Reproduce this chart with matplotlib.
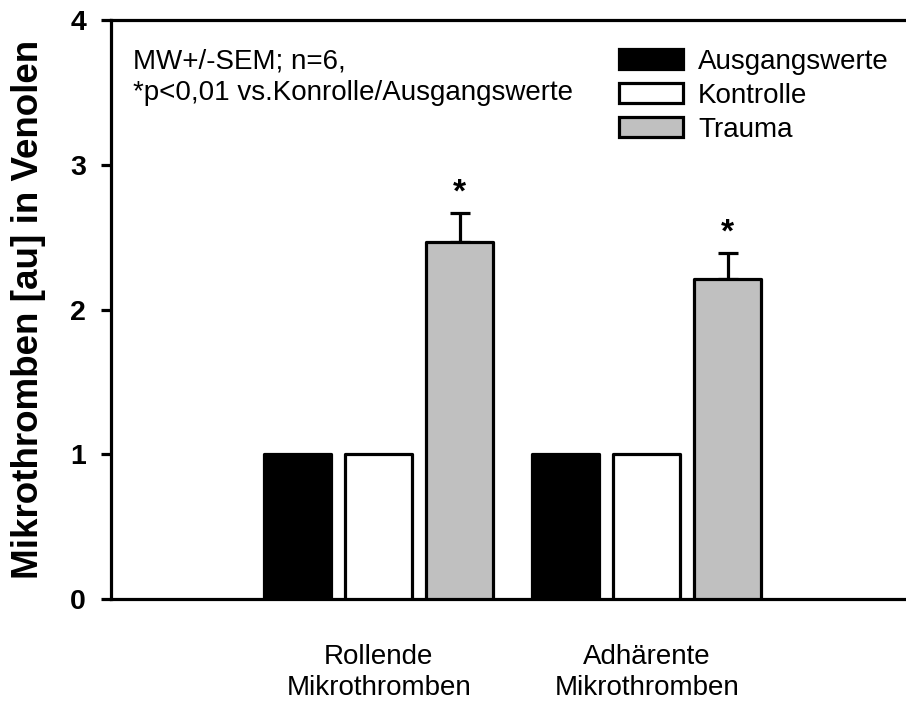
import numpy as np
import matplotlib
matplotlib.use('Agg')
import matplotlib.pyplot as plt

plt.rcParams['font.family'] = ['Liberation Sans', 'DejaVu Sans']

# data
categories = ['Rollende\nMikrothromben', 'Adhärente\nMikrothromben']
series_names = ['Ausgangswerte', 'Kontrolle', 'Trauma']
ausgangswerte = [1.0, 1.0]
kontrolle = [1.0, 1.0]
trauma = [2.47, 2.21]
trauma_sem = [0.20, 0.18]
significant = [True, True]

colors = ['black', 'white', '#c0c0c0']
lw = 2.3
fs = 20

fig = plt.figure(figsize=(9.06, 7.04), dpi=100)
ax = fig.add_axes([0.1225, 0.149, 0.887, 0.8226])

x = np.arange(1, len(categories) + 1)
width = 0.25
offset = 0.302

handles = []
for i, (vals, name) in enumerate(zip([ausgangswerte, kontrolle, trauma], series_names)):
    b = ax.bar(x + (i - 1) * offset, vals, width, color=colors[i], edgecolor='black',
               linewidth=lw, label=name, zorder=3)
    for p in b:
        p.set_joinstyle('round')
    handles.append(b)

# error bars only upwards for trauma
ax.errorbar(x + offset, trauma, yerr=[np.zeros(len(trauma)), trauma_sem], fmt='none',
            ecolor='black', elinewidth=lw, capsize=7.5, capthick=lw, zorder=2)

for xi, t, s, sig in zip(x + offset, trauma, trauma_sem, significant):
    if sig:
        ax.annotate('*', (xi, t + s), xytext=(0, 3), textcoords='offset points',
                    ha='center', va='bottom', fontsize=24, fontweight='bold')

ax.set_xlim(0, 3)
ax.set_ylim(0, 4)
ax.set_yticks([0, 1, 2, 3, 4])
ax.set_xticks(x)
ax.set_xticklabels(categories, fontsize=fs, linespacing=1.27)
ax.tick_params(axis='x', length=0, pad=32)
ax.tick_params(axis='y', length=7, width=lw, direction='out', labelsize=20.5, pad=11)
for lab in ax.get_yticklabels():
    lab.set_fontweight('bold')
for sp in ax.spines.values():
    sp.set_linewidth(lw)

ax.set_ylabel('Mikrothromben [au] in Venolen', fontsize=26.5, fontweight='bold')
ax.yaxis.set_label_coords(-0.081, 0.5)

ax.text(0.0274, 0.95, 'MW+/-SEM; n=6,\n*p<0,01 vs.Konrolle/Ausgangswerte',
        transform=ax.transAxes, ha='left', va='top', fontsize=fs, linespacing=1.26)

leg = ax.legend(handles=handles, loc='upper left', bbox_to_anchor=(0.683, 0.931),
                bbox_transform=fig.transFigure, frameon=False, fontsize=fs,
                handlelength=2.3, handleheight=0.72, labelspacing=0.29,
                handletextpad=0.55, borderpad=0, borderaxespad=0)

fig.savefig('out.png', dpi=100)
